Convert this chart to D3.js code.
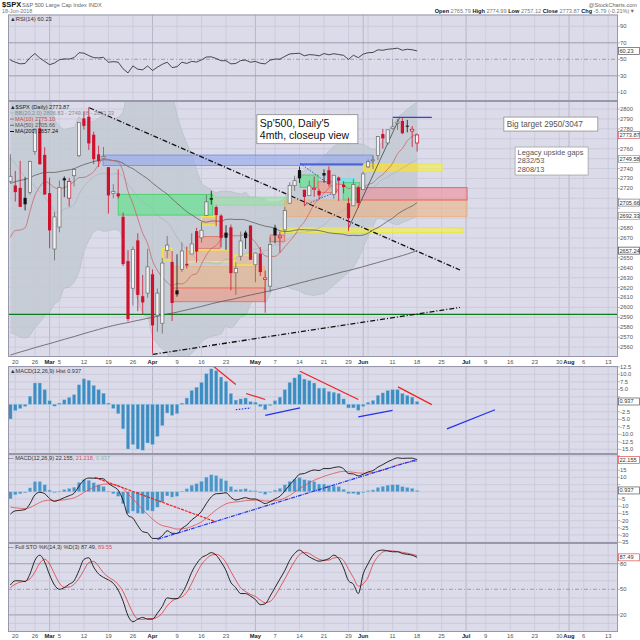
<!DOCTYPE html>
<html><head><meta charset="utf-8">
<script src="https://cdn.jsdelivr.net/npm/d3@7"></script>
<style>
body{margin:0;background:#fff;}
svg{display:block;font-family:"Liberation Sans",Arial,sans-serif;}
</style></head>
<body><svg id="c" width="640" height="640"></svg>
<script>
// ---------------- DATA ----------------
const dates = ["02-16","02-20","02-21","02-22","02-23","02-26","02-27","02-28","03-01","03-02",
"03-05","03-06","03-07","03-08","03-09","03-12","03-13","03-14","03-15","03-16",
"03-19","03-20","03-21","03-22","03-23","03-26","03-27","03-28","03-29","04-02",
"04-03","04-04","04-05","04-06","04-09","04-10","04-11","04-12","04-13","04-16",
"04-17","04-18","04-19","04-20","04-23","04-24","04-25","04-26","04-27","04-30",
"05-01","05-02","05-03","05-04","05-07","05-08","05-09","05-10","05-11","05-14",
"05-15","05-16","05-17","05-18","05-21","05-22","05-23","05-24","05-25","05-29",
"05-30","05-31","06-01","06-04","06-05","06-06","06-07","06-08","06-11","06-12",
"06-13","06-14","06-15","06-18"];
const prevClose0 = 2731.20;
const open = [2727.14,2722.99,2720.53,2710.42,2715.80,2757.37,2780.45,2753.78,2715.22,2658.89,
2681.06,2730.18,2710.18,2732.75,2752.91,2790.54,2792.31,2774.06,2754.27,2750.57,
2741.38,2715.05,2714.99,2691.36,2646.71,2619.35,2667.57,2611.30,2614.41,2633.45,
2592.17,2584.04,2657.36,2645.82,2617.18,2638.41,2643.89,2653.83,2676.90,2670.10,
2692.74,2710.11,2701.16,2692.56,2675.40,2680.80,2634.92,2651.65,2675.47,2682.51,
2642.96,2654.24,2628.08,2621.45,2680.34,2670.26,2678.12,2705.02,2722.70,2738.47,
2718.59,2712.62,2719.71,2717.35,2735.39,2738.34,2713.98,2730.94,2723.60,2705.11,
2702.43,2720.98,2718.70,2741.67,2748.46,2753.25,2774.84,2765.84,2780.18,2785.60,
2787.94,2783.21,2777.78,2765.79];
const high = [2754.42,2737.60,2747.75,2731.26,2747.76,2780.64,2789.15,2761.52,2730.89,2696.25,
2728.09,2732.08,2730.60,2740.45,2786.57,2796.98,2801.90,2777.11,2763.03,2761.85,
2741.38,2724.22,2739.14,2695.68,2657.67,2661.36,2674.78,2632.65,2659.07,2638.30,
2619.14,2649.86,2672.08,2656.88,2653.55,2665.45,2661.43,2674.72,2680.26,2686.49,
2713.34,2717.49,2702.84,2693.94,2682.86,2683.55,2645.30,2676.48,2677.35,2682.87,
2655.27,2660.87,2637.14,2670.93,2683.35,2676.34,2701.27,2726.11,2732.86,2742.10,
2718.59,2727.76,2731.96,2719.50,2739.19,2742.24,2733.33,2731.97,2727.36,2710.67,
2729.34,2722.50,2736.93,2749.16,2752.61,2772.39,2779.90,2779.39,2790.21,2789.80,
2791.47,2789.06,2782.81,2774.99];
const low = [2725.11,2706.76,2701.29,2697.77,2713.74,2753.78,2744.22,2713.54,2659.65,2647.32,
2675.75,2711.26,2701.74,2721.92,2751.54,2779.26,2758.68,2744.38,2741.47,2749.97,
2694.59,2710.05,2709.79,2641.59,2585.89,2601.81,2596.12,2593.06,2609.72,2553.80,
2575.49,2573.61,2649.58,2586.27,2610.79,2635.78,2639.25,2653.83,2645.05,2665.16,
2692.05,2703.63,2681.90,2660.61,2657.99,2617.32,2612.67,2647.16,2659.01,2648.04,
2625.41,2631.70,2594.62,2615.32,2664.70,2655.20,2674.14,2704.54,2717.45,2725.47,
2701.91,2712.17,2711.36,2709.18,2725.70,2721.88,2709.54,2707.38,2714.99,2676.81,
2702.43,2700.68,2718.70,2740.54,2739.51,2748.46,2760.16,2763.59,2779.26,2778.78,
2774.65,2776.52,2761.73,2757.12];
const close = [2732.22,2716.26,2701.33,2703.96,2747.30,2779.60,2744.28,2713.83,2677.67,2691.25,
2720.94,2728.12,2726.80,2738.97,2786.57,2783.02,2765.31,2749.48,2747.33,2752.01,
2712.92,2716.94,2711.93,2643.69,2588.26,2658.55,2612.62,2605.00,2640.87,2581.88,
2614.45,2644.69,2662.84,2604.47,2613.16,2656.87,2642.19,2663.99,2656.30,2677.84,
2706.39,2708.64,2693.13,2670.14,2670.29,2634.56,2639.40,2666.94,2669.91,2648.05,
2654.80,2635.67,2629.73,2663.42,2672.63,2671.92,2697.79,2723.07,2727.72,2730.13,
2711.45,2722.46,2720.13,2712.97,2733.01,2724.44,2733.29,2727.76,2721.33,2689.86,
2724.01,2705.27,2734.62,2746.87,2748.80,2772.35,2770.37,2779.03,2782.00,2786.85,
2775.63,2782.49,2779.66,2773.87];
const ma10 = [2670.7,2677.5,2678.1,2680.3,2696.9,2712.9,2721.8,2726.9,2724.8,2720.8,
2719.6,2720.8,2723.4,2726.9,2730.8,2731.1,2733.2,2736.8,2743.8,2749.9,
2749.1,2747.9,2746.4,2736.9,2717.1,2704.6,2689.4,2674.9,2664.3,2647.3,
2637.4,2630.2,2625.3,2621.4,2623.9,2623.7,2626.6,2632.5,2634.1,2643.7,
2652.9,2659.3,2662.3,2668.9,2674.6,2672.3,2672.1,2672.4,2673.7,2670.7,
2665.6,2658.3,2651.9,2651.3,2651.5,2655.2,2661.1,2666.7,2672.5,2680.7,
2686.4,2695.0,2704.1,2709.0,2715.1,2720.3,2723.9,2724.3,2723.7,2719.7,
2720.9,2719.2,2720.7,2724.0,2725.6,2730.4,2734.1,2739.3,2745.3,2755.0,
2760.2,2767.9,2772.4,2775.1];
const bbMid = [2750.6,2744.8,2737.9,2731.2,2726.6,2722.0,2716.5,2711.1,2703.8,2697.2,
2695.2,2699.1,2700.7,2703.6,2713.9,2722.0,2727.5,2731.8,2734.3,2735.3,
2734.3,2734.4,2734.9,2731.9,2723.9,2717.9,2711.3,2705.9,2704.0,2698.6,
2693.2,2689.1,2685.9,2679.1,2670.5,2664.2,2658.0,2653.7,2649.2,2645.5,
2645.1,2644.7,2643.8,2645.1,2649.2,2648.0,2649.4,2652.5,2653.9,2657.2,
2659.2,2658.8,2657.1,2660.1,2663.0,2663.8,2666.6,2669.5,2673.1,2675.7,
2676.0,2676.7,2678.0,2680.2,2683.3,2687.8,2692.5,2695.5,2698.1,2700.2,
2703.6,2707.1,2712.4,2716.5,2720.3,2725.4,2729.0,2731.8,2734.5,2737.3,
2740.6,2743.6,2746.5,2749.58];
const bbUpper = [2926.8,2916.8,2905.9,2893.2,2881.4,2864.0,2848.5,2830.7,2812.2,2791.0,
2783.2,2779.1,2780.7,2781.6,2791.9,2788.0,2787.5,2787.8,2790.3,2793.9,
2791.3,2790.4,2791.9,2797.9,2817.1,2812.9,2815.3,2817.9,2818.0,2826.2,
2823.2,2820.1,2817.9,2813.5,2794.5,2778.2,2765.6,2753.7,2739.2,2725.5,
2721.5,2718.7,2715.8,2717.1,2717.2,2716.8,2715.4,2714.5,2715.9,2711.2,
2711.0,2709.8,2709.1,2706.1,2706.0,2707.2,2710.6,2719.5,2728.1,2734.7,
2738.2,2740.7,2744.0,2747.2,2752.3,2757.6,2762.5,2764.5,2765.1,2765.2,
2766.4,2765.1,2764.4,2761.5,2759.3,2760.8,2769.0,2776.8,2784.5,2791.3,
2795.6,2799.6,2803.5,2806.83];
const bbLower = [2574.4,2572.8,2569.9,2569.2,2571.8,2580.0,2584.5,2591.5,2595.4,2603.4,
2607.2,2619.1,2620.7,2625.6,2635.9,2656.0,2667.5,2675.8,2678.3,2676.7,
2677.3,2678.4,2677.9,2665.9,2630.7,2622.9,2607.3,2593.9,2590.0,2571.0,
2563.2,2558.1,2553.9,2544.7,2546.5,2550.2,2550.4,2553.7,2559.2,2565.5,
2568.7,2570.7,2571.8,2573.1,2581.2,2579.2,2583.4,2590.5,2591.9,2603.2,
2607.4,2607.8,2605.1,2614.1,2620.0,2620.4,2622.6,2619.5,2618.1,2616.7,
2613.8,2612.7,2612.0,2613.2,2614.3,2618.0,2622.5,2626.5,2631.1,2635.2,
2640.8,2649.1,2660.4,2671.5,2681.3,2690.0,2689.0,2686.8,2684.5,2683.3,
2685.6,2687.6,2689.5,2692.33];
const ma50 = [2725.0,2726.8,2728.1,2729.1,2730.9,2733.2,2734.8,2736.1,2736.1,2736.1,
2736.9,2737.9,2738.7,2739.9,2742.0,2744.0,2745.5,2747.1,2748.1,2748.9,
2748.7,2748.1,2747.4,2745.3,2742.1,2739.9,2736.4,2733.0,2729.7,2725.4,
2721.5,2717.7,2714.2,2709.5,2705.0,2700.7,2696.5,2693.3,2690.0,2687.1,
2685.9,2687.1,2687.1,2686.9,2688.7,2689.0,2688.6,2688.7,2688.1,2686.5,
2684.9,2683.3,2681.9,2681.1,2679.6,2677.4,2676.5,2676.7,2677.7,2678.4,
2678.3,2678.1,2678.0,2677.5,2676.4,2675.2,2674.6,2674.2,2673.7,2672.4,
2672.6,2672.4,2672.9,2674.9,2678.1,2680.4,2683.6,2687.0,2689.9,2694.0,
2697.2,2699.9,2702.3,2705.66];
const ma200 = [2552.0,2553.5,2555.0,2556.4,2557.9,2559.4,2560.8,2562.2,2563.5,2564.9,
2566.4,2567.8,2569.2,2570.6,2572.1,2573.6,2575.0,2576.4,2577.8,2579.2,
2580.5,2581.7,2582.8,2583.8,2584.7,2585.9,2586.9,2587.9,2589.0,2589.9,
2591.0,2592.1,2593.3,2594.2,2595.2,2596.4,2597.5,2598.7,2599.8,2601.0,
2602.3,2603.6,2604.8,2605.9,2607.0,2607.9,2609.0,2610.2,2611.4,2612.5,
2613.6,2614.6,2615.6,2616.8,2618.0,2619.2,2620.5,2621.9,2623.2,2624.6,
2625.8,2627.1,2628.4,2629.6,2630.9,2632.2,2633.5,2634.8,2636.1,2637.1,
2638.4,2639.7,2641.1,2642.5,2643.9,2645.3,2646.7,2648.1,2649.5,2650.9,
2652.3,2653.8,2655.5,2657.24];
const rsi = [49,46.5,44.5,45,52,57,51.5,47.5,43.5,45.5,
49.5,50.5,50.3,52,58,57.5,54.5,52,51.7,52.4,
46.5,47.2,46.5,38.5,33.5,42,38,37.3,42,36.5,
40.5,44,46.5,40,41,46.5,45,47.5,46.7,49.3,
52.8,53,51,48.3,48.3,44.5,45,48.5,49,46.5,
47.5,45.2,44.5,49,50.3,50.2,53.5,56.5,57,57.3,
54.3,55.7,55.3,54.2,57,55.5,56.8,55.8,54.8,49.8,
55,52,56.3,58,58.3,61.5,61,62.2,62.7,63.5,
61,62.2,61.6,60.23];
const macdHist = [-4.9,-2.1,-1.4,-0.7,2.7,7.1,7.1,4.9,1.2,-0.6,
0.4,1.5,2.3,3.2,6.5,8.5,8.0,6.3,4.9,3.7,
0.4,-1.4,-3.1,-8.2,-14.9,-13.4,-14.9,-15.3,-12.9,-13.4,
-10.7,-7.1,-2.9,-3.7,-3.1,0.4,2.1,4.6,5.7,7.3,
10.2,11.8,11.2,9.1,7.7,3.6,1.4,1.8,2.1,0.9,
0.7,-0.7,-1.8,-0.4,1.2,2.4,4.9,7.3,8.8,10.0,
8.4,7.9,7.1,5.4,5.4,4.3,4.0,3.6,1.8,-1.2,
-1.2,-2.0,-0.7,0.7,1.3,3.0,3.8,4.6,4.9,4.9,
3.6,3.0,2.4,0.937];
const macdLine = [-15.5,-13.23,-12.88,-12.35,-8.28,-2.1,-0.33,-1.3,-4.7,-6.65,
-5.55,-4.08,-2.7,-1.0,3.92,8.05,9.55,9.43,9.25,8.98,
5.78,3.63,1.15,-6.0,-16.43,-18.28,-23.5,-27.73,-28.55,-32.4,
-32.38,-30.55,-27.08,-28.8,-28.98,-25.38,-23.15,-19.5,-16.98,-13.55,
-8.1,-3.55,-1.35,-1.18,-0.65,-3.85,-5.7,-4.85,-4.03,-5.0,
-5.03,-6.6,-8.15,-6.85,-4.95,-3.15,0.57,4.8,8.5,12.2,
12.7,14.18,15.15,14.8,16.15,16.13,16.83,17.33,15.98,12.68,
12.38,11.08,12.2,13.78,14.7,17.15,18.9,20.85,22.38,23.6,
23.2,23.35,23.35,22.155];
const macdSignal = [-10.6,-11.13,-11.48,-11.65,-10.98,-9.2,-7.43,-6.2,-5.9,-6.05,
-5.95,-5.58,-5.0,-4.2,-2.58,-0.45,1.55,3.13,4.35,5.28,
5.38,5.03,4.25,2.2,-1.53,-4.88,-8.6,-12.43,-15.65,-19.0,
-21.68,-23.45,-24.18,-25.1,-25.88,-25.78,-25.25,-24.1,-22.68,-20.85,
-18.3,-15.35,-12.55,-10.28,-8.35,-7.45,-7.1,-6.65,-6.13,-5.9,
-5.73,-5.9,-6.35,-6.45,-6.15,-5.55,-4.33,-2.5,-0.3,2.2,
4.3,6.28,8.05,9.4,10.75,11.83,12.83,13.73,14.18,13.88,
13.58,13.08,12.9,13.08,13.4,14.15,15.1,16.25,17.48,18.7,
19.6,20.35,20.95,21.218];
const stoK = [55,60,60,59,68,84,90,82,67,55,
50,52,56,60,72,85,87,76,68,64,
61,57,49,36,19,12,15,17,15,15,
22,30,40,39,39,45,56,70,80,87,
90,93,90,82,72,58,52,45,45,42,
38,32,33,42,52,62,72,84,92,96,
92,88,85,83,84,86,90,86,75,60,
56,45,68,80,90,95,96,95,94,94,
92,91,90,87.49];
const stoD = [52,56,58.3,59.7,62.3,70.3,80.7,85.3,79.7,68,
57.3,52.3,52.7,56,62.7,72.3,81.3,82.7,77,69.3,
64.3,60.7,55.7,47.3,34.7,22.3,15.3,14.7,15.7,15.7,
17.3,22.3,30.7,36.3,39.3,41,46.7,57,68.7,79,
85.7,90,91,88.3,81.3,70.7,60.7,51.7,47.3,44,
41.7,37.3,34.3,35.7,42.3,52,62,72.7,82.7,90.7,
93.3,92,88.3,85.3,84,84.3,86.7,87.3,83.7,73.7,
63.7,53.7,56.3,64.3,79.3,88.3,93.7,95.3,95,94.3,
93.3,92.3,91,89.55];

// x-axis ticks (trading-day index incl. future days)
const tickIdx = [1,5,8,10,15,20,25,29,34,39,44,50,54,59,64,69,72,78,83,88,93,97,102,107,112,114,117,122];
const tickLabels = ["20","26","Mar","5","12","19","26","Apr","9","16","23","May","7","14","21","29","Jun","11","18","25","Jul","9","16","23","30","Aug","6","13"];
const gridOnlyIdx = [73];
const monthLabels = ["Mar","Apr","May","Jun","Jul","Aug"];
const priceTicks = d3.range(2560, 2801, 10);
const rsiTicks = [10,30,50,70,90];
const histTicks = [12.5,10,7.5,5,2.5,0,-2.5,-5,-7.5,-10,-12.5,-15];
const macdTicks = [25,20,15,10,5,0,-5,-10,-15,-20,-25,-30,-35];
const stoTicks = [80,50,20];

// annotations (date index, price)
const zones = [
 [18.9,74,2753.6,2743.0,"blue"],
 [22.0,41.3,2714.0,2693.1,"green"],
 [41.3,56.4,2711.3,2703.2,"green2"],
 [32.9,51.9,2641.0,2619.6,"orange"],
 [32.9,51.9,2619.6,2605.7,"salmon"],
 [31.1,32.9,2659.6,2647.8,"yellowbox"],
 [38,42.8,2671.3,2659.6,"salmon"],
 [36,44.8,2657.9,2646.1,"yellowbox"],
 [39,42.1,2691.4,2683.1,"yellowbox"],
 [45.8,49.9,2652.8,2642.7,"yellowbox"],
 [53,56,2673,2666.2,"salmon"],
 [56,93.2,2708.3,2691.6,"orange"],
 [55,92.2,2680.3,2675.3,"yellow"],
 [70.3,93.2,2720.7,2708.3,"red"],
 [72,83.2,2744.6,2737.5,"orangefill"],
 [72,88.1,2744.6,2737.5,"yellow"],
 [59.1,62.8,2733.5,2721.1,"green"],
 [62.8,66.6,2726.7,2715.6,"salmon"],
 [66.6,70.3,2730.1,2725.7,"cyan"],
 [67.9,71.3,2725.7,2708.3,"green"]
];
const priceLines = [
 [16.1,2801.3,91.75,2637.7,"#111","5,2,1,2",1.3],
 [29.04,2552.7,91.75,2600.0,"#111","5,2,1,2",1.3],
 [69,2680,79.5,2792,"#333",null,0.7],
 [78,2791.6,86,2791.6,"#3344dd",null,1.2],
 [59.1,2744.5,72,2744.5,"#3344dd",null,1.2],
 [59.1,2745.3,66.9,2717.6,"#3355ee","1.5,1.5",1],
 [60.1,2703.2,66.9,2717.6,"#3355ee","1.5,1.5",1]
];
const greenLevel = 2593;
const histLines = [
 [41.2,13.0,46.0,6.6,"#ee2222",null],
 [48.1,3.6,52.0,1.6,"#ee2222",null],
 [59.1,11,71.0,1.6,"#ee2222",null],
 [79.1,5.8,86.0,-0.1,"#ee2222",null],
 [46,-1.8,49.1,-1.2,"#2233ee","1.5,1.5"],
 [52,-3.7,59.1,-1.2,"#2233ee",null],
 [71,-4.2,78,-2.0,"#2233ee",null],
 [89.1,-8.2,98.9,-1.8,"#2233ee",null]
];
const macdLines = [
 [17.2,10,42,-21,"#ee2222","3,1"],
 [30,-33,83,22.5,"#2233ee","4,1,1,1"]
];

// ---------------- LAYOUT ----------------
const svg = d3.select("#c");
const X0 = 8, X1 = 618;
const x = d3.scaleLinear().domain([-0.49, 124.0]).range([X0, X1]);
const P = {
  rsi:   {top:14.5, bottom:101},
  price: {top:101, bottom:357},
  hist:  {top:366, bottom:454},
  macd:  {top:454, bottom:543},
  sto:   {top:543, bottom:632}
};
const yR = d3.scaleLinear().domain([-0.5,104.3]).range([P.rsi.bottom,P.rsi.top]);
const yP = d3.scaleLinear().domain([2550,2808.1]).range([P.price.bottom,P.price.top]);
const yH = d3.scaleLinear().domain([-16.57,12.77]).range([P.hist.bottom,P.hist.top]);
const yM = d3.scaleLinear().domain([-35.56,26.25]).range([P.macd.bottom,P.macd.top]);
const yS = d3.scaleLinear().domain([-0.06,104.3]).range([P.sto.bottom,P.sto.top]);

const BG = "#dcdbe9", GRID = "#c9c8da", MGRID = "#aeadc2", BORDER = "#9897ab";
const TXT = "#555";
const defs = svg.append("defs");

function panel(name, p){
  defs.append("clipPath").attr("id","clip-"+name)
    .append("rect").attr("x",X0).attr("y",p.top).attr("width",X1-X0).attr("height",p.bottom-p.top);
  svg.append("rect").attr("x",X0).attr("y",p.top).attr("width",X1-X0).attr("height",p.bottom-p.top).attr("fill",BG);
  const g = svg.append("g").attr("clip-path","url(#clip-"+name+")");
  g.selectAll(null).data(tickIdx.concat(gridOnlyIdx)).join("line")
    .attr("x1",d=>x(d)).attr("x2",d=>x(d)).attr("y1",p.top).attr("y2",p.bottom)
    .attr("stroke",(d)=>monthLabels.includes(tickLabels[tickIdx.indexOf(d)])?MGRID:GRID).attr("stroke-width",0.8);
  return g;
}
function hgrid(g, ys, vals, color, dash){
  g.selectAll(null).data(vals).join("line")
   .attr("x1",X0).attr("x2",X1).attr("y1",d=>ys(d)).attr("y2",d=>ys(d))
   .attr("stroke",color).attr("stroke-width",0.8).attr("stroke-dasharray",dash||null);
}
function border(p){
  svg.append("rect").attr("x",X0+0.5).attr("y",p.top+0.5).attr("width",X1-X0-1).attr("height",p.bottom-p.top-1)
    .attr("fill","none").attr("stroke",BORDER).attr("stroke-width",1);
}
// axis labels, skipping those hidden under a value box
function yLabels(ys, vals, fmt, boxYs){
  const keep = vals.filter(v=>!(boxYs||[]).some(b=>Math.abs(ys(v)-b)<6));
  svg.selectAll(null).data(vals).join("line")
    .attr("x1",X1).attr("x2",X1+2).attr("y1",d=>ys(d)).attr("y2",d=>ys(d)).attr("stroke","#888").attr("stroke-width",0.6);
  svg.selectAll(null).data(keep).join("text")
    .attr("x",620).attr("y",d=>ys(d)+2).attr("font-size",5.8).attr("fill",TXT).text(fmt||(d=>d));
}
function valBox(yv, txt, stroke){
  svg.append("rect").attr("x",618.5).attr("y",yv-3.5).attr("width",21).attr("height",7)
    .attr("fill","#fff").attr("stroke",stroke).attr("stroke-width",0.7);
  svg.append("text").attr("x",619.5).attr("y",yv+2).attr("font-size",5.6).attr("fill","#333").text(txt);
}
function xLabels(yy){
  svg.selectAll(null).data(tickIdx).join("text")
    .attr("x",d=>x(d)).attr("y",yy).attr("text-anchor","middle").attr("font-size",5.8)
    .attr("font-weight",(d,i)=>monthLabels.includes(tickLabels[i])?"bold":"normal")
    .attr("fill",(d,i)=>monthLabels.includes(tickLabels[i])?"#222":TXT)
    .text((d,i)=>tickLabels[i]);
}
const idx = d3.range(close.length);

// ---------------- HEADER ----------------
svg.append("text").attr("x",2).attr("y",7).attr("font-size",7.5).attr("font-weight","bold").attr("fill","#111").text("$SPX");
svg.append("text").attr("x",22).attr("y",7).attr("font-size",5.6).attr("fill","#666").text("S&P 500 Large Cap Index  INDX");
svg.append("text").attr("x",2).attr("y",13.2).attr("font-size",5.4).attr("fill","#777").text("18-Jun-2018");
svg.append("text").attr("x",637).attr("y",6.5).attr("text-anchor","end").attr("font-size",5.6).attr("fill","#666").text("@StockCharts.com");
const hdr = svg.append("text").attr("x",635).attr("y",13.2).attr("text-anchor","end").attr("font-size",5.6);
[["Open ","b"],["2765.79 ","v"],["High ","b"],["2774.99 ","v"],["Low ","b"],["2757.12 ","v"],["Close ","b"],["2773.87 ","v"],["Chg ","b"],["-5.79 (-0.21%)▼","v"]]
 .forEach(([t,k])=>hdr.append("tspan").attr("font-weight",k==="b"?"bold":"normal").attr("fill",k==="b"?"#111":"#777").text(t));

// ---------------- RSI ----------------
{
  const g = panel("rsi",P.rsi);
  hgrid(g,yR,[10,90],GRID);
  hgrid(g,yR,[30,70],"#8f8ea3");
  hgrid(g,yR,[50],"#8f8ea3","4,2,1,2");
  g.append("path").datum(idx).attr("fill","none").attr("stroke","#222").attr("stroke-width",0.8)
    .attr("d",d3.line().x(i=>x(i)).y(i=>yR(rsi[i])));
  border(P.rsi);
  const by = yR(rsi[rsi.length-1]);
  yLabels(yR,rsiTicks,null,[by]);
  valBox(by,"60.23","#555");
  svg.append("text").attr("x",10).attr("y",21).attr("font-size",5.8).attr("fill","#333").text("▲RSI(14) 60.23");
}

// ---------------- PRICE ----------------
{
  const g = panel("price",P.price);
  hgrid(g,yP,priceTicks,GRID);
  g.append("path").datum(idx).attr("fill","#c3cad2").attr("fill-opacity",0.85)
    .attr("d",d3.area().x(i=>x(i)).y0(i=>yP(bbLower[i])).y1(i=>yP(bbUpper[i])).curve(d3.curveMonotoneX));
  [bbUpper,bbLower].forEach(arr=>g.append("path").datum(idx).attr("fill","none").attr("stroke","#b4bac4").attr("stroke-width",0.6)
    .attr("d",d3.line().x(i=>x(i)).y(i=>yP(arr[i])).curve(d3.curveMonotoneX)));
  const zs = {
    blue:{f:"#93a8ec",o:0.6,s:"#6f8ae8",w:0.8},
    green:{f:"#5fe28a",o:0.65,s:"#3fcf5f",w:0.8},
    green2:{f:"#8ee69a",o:0.5,s:"#79dc85",w:0.5},
    orange:{f:"#f0b07c",o:0.55,s:"#eea66a",w:0.6},
    orangefill:{f:"#f0a878",o:0.7,s:"none",w:0},
    salmon:{f:"#f09a86",o:0.65,s:"#ea5a50",w:0.7},
    yellowbox:{f:"#f3b58a",o:0.55,s:"#f2ee30",w:1.2},
    yellow:{f:"#f4f04a",o:0.6,s:"#eeea2a",w:0.8},
    red:{f:"#f08d98",o:0.6,s:"#e8505e",w:0.8},
    cyan:{f:"#7fe2ea",o:0.85,s:"#6fd6e0",w:0.5}
  };
  g.selectAll(null).data(zones).join("rect")
    .attr("x",d=>x(d[0])).attr("width",d=>x(d[1])-x(d[0]))
    .attr("y",d=>yP(d[2])).attr("height",d=>yP(d[3])-yP(d[2]))
    .attr("fill",d=>zs[d[4]].f).attr("fill-opacity",d=>zs[d[4]].o)
    .attr("stroke",d=>zs[d[4]].s).attr("stroke-width",d=>zs[d[4]].w);
  const ln = (arr,col,w)=>g.append("path").datum(idx).attr("fill","none").attr("stroke",col).attr("stroke-width",w)
    .attr("d",d3.line().x(i=>x(i)).y(i=>yP(arr[i])).curve(d3.curveMonotoneX));
  ln(bbMid,"#a9adb8",0.6);
  ln(ma200,"#5a5a5a",0.8);
  ln(ma50,"#6b6b6b",0.9);
  ln(ma10,"#c46a6a",0.8);
  g.append("line").attr("x1",X0).attr("x2",X1).attr("y1",yP(greenLevel)).attr("y2",yP(greenLevel))
    .attr("stroke","#0a7a1a").attr("stroke-width",1.2);
  g.selectAll(null).data(priceLines).join("line")
    .attr("x1",d=>x(d[0])).attr("y1",d=>yP(d[1])).attr("x2",d=>x(d[2])).attr("y2",d=>yP(d[3]))
    .attr("stroke",d=>d[4]).attr("stroke-dasharray",d=>d[5]).attr("stroke-width",d=>d[6]);
  const RED = "#d0112e";
  const cg = g.append("g");
  idx.forEach(i=>{
    const pc = i===0?prevClose0:close[i-1];
    const down = close[i] < pc;
    const filled = close[i] < open[i];
    const col = down ? RED : (filled ? "#111" : "#6a6a6a");
    cg.append("line").attr("x1",x(i)).attr("x2",x(i)).attr("y1",yP(high[i])).attr("y2",yP(low[i]))
      .attr("stroke",col).attr("stroke-width",0.8);
    const top = yP(Math.max(open[i],close[i])), bot = yP(Math.min(open[i],close[i]));
    cg.append("rect").attr("x",x(i)-1.6).attr("width",3.2).attr("y",top).attr("height",Math.max(1,bot-top))
      .attr("fill",filled?col:"#f2f2f4").attr("stroke",col).attr("stroke-width",filled?0:0.7);
  });
  border(P.price);
  const boxes = [[close[close.length-1],"2773.87","#d06060"],[2749.58,"2749.58","#999"],[2705.66,"2705.66","#777"],
                 [2692.33,"2692.33","#999"],[2657.24,"2657.24","#444"]];
  yLabels(yP,priceTicks,null,boxes.map(b=>yP(b[0])));
  boxes.forEach(b=>valBox(yP(b[0]),b[1],b[2]));
  const lg = [["$SPX (Daily) 2773.87","#222",null],["BB(20,2.0) 2806.83 - 2749.58 - 2692.33","#8a8a96","#b4bac4"],
    ["MA(10) 2775.10","#cc4444","#c46a6a"],["MA(50) 2705.66","#555","#6b6b6b"],["MA(200) 2657.24","#111","#111"]];
  lg.forEach((d,k)=>{
    const yy = 108.5 + k*6.2;
    if(d[2]) svg.append("line").attr("x1",10).attr("x2",14).attr("y1",yy-1.8).attr("y2",yy-1.8).attr("stroke",d[2]).attr("stroke-width",1);
    svg.append("text").attr("x",k===0?10:15).attr("y",yy).attr("font-size",5.6).attr("fill",d[1]).text(k===0?"▲"+d[0]:d[0]);
  });
  const tb = svg.append("g");
  tb.append("rect").attr("x",x(50.3)).attr("y",yP(2794.3)).attr("width",101).attr("height",29)
    .attr("fill","#fff").attr("stroke","#888").attr("stroke-width",0.8);
  tb.append("text").attr("x",x(50.3)+3).attr("y",yP(2794.3)+12).attr("font-size",10.5).attr("fill","#111").text("Sp'500, Daily'5");
  tb.append("text").attr("x",x(50.3)+3).attr("y",yP(2794.3)+24.5).attr("font-size",10.5).attr("fill","#111").text("4mth, closeup view");
  tb.append("rect").attr("x",x(100.7)).attr("y",yP(2791.9)).attr("width",94).attr("height",14)
    .attr("fill","#fff").attr("stroke","#9a8a8a").attr("stroke-width",0.8);
  tb.append("text").attr("x",x(100.7)+3).attr("y",yP(2791.9)+10).attr("font-size",8.2).attr("fill","#555").text("Big target 2950/3047");
  tb.append("rect").attr("x",x(103)).attr("y",yP(2761.7)).attr("width",73).attr("height",28)
    .attr("fill","#fff").attr("stroke","#999").attr("stroke-width",0.7);
  ["Legacy upside gaps","2832/53","2808/13"].forEach((t,k)=>
    tb.append("text").attr("x",x(103)+2.5).attr("y",yP(2761.7)+8+k*8.3).attr("font-size",7.4).attr("fill","#555").text(t));
}
xLabels(363.8);

// ---------------- MACD HISTOGRAM ----------------
{
  const g = panel("hist",P.hist);
  hgrid(g,yH,histTicks,GRID);
  g.selectAll(null).data(idx).join("rect")
    .attr("x",i=>x(i)-1.7).attr("width",3.4)
    .attr("y",i=>Math.min(yH(0),yH(macdHist[i]))).attr("height",i=>Math.abs(yH(macdHist[i])-yH(0)))
    .attr("fill","#3d8cc2").attr("stroke","#9cc6e2").attr("stroke-width",0.4);
  g.selectAll(null).data(histLines).join("line")
    .attr("x1",d=>x(d[0])).attr("y1",d=>yH(d[1])).attr("x2",d=>x(d[2])).attr("y2",d=>yH(d[3]))
    .attr("stroke",d=>d[4]).attr("stroke-width",1.2).attr("stroke-dasharray",d=>d[5]);
  border(P.hist);
  const by = yH(0.937);
  yLabels(yH,histTicks,d=>d.toFixed(1),[by]);
  valBox(by,"0.937","#555");
  svg.append("text").attr("x",10).attr("y",372.5).attr("font-size",5.6).attr("fill","#333").text("▲MACD(12,26,9) Hist 0.937");
}

// ---------------- MACD ----------------
{
  const g = panel("macd",P.macd);
  hgrid(g,yM,macdTicks,GRID);
  g.selectAll(null).data(idx).join("rect")
    .attr("x",i=>x(i)-1.7).attr("width",3.4)
    .attr("y",i=>Math.min(yM(0),yM(macdHist[i]))).attr("height",i=>Math.abs(yM(macdHist[i])-yM(0)))
    .attr("fill","#4b95c8").attr("stroke","#a6cbe6").attr("stroke-width",0.4);
  g.append("path").datum(idx).attr("fill","none").attr("stroke","#e05050").attr("stroke-width",0.8)
    .attr("d",d3.line().x(i=>x(i)).y(i=>yM(macdSignal[i])).curve(d3.curveMonotoneX));
  g.append("path").datum(idx).attr("fill","none").attr("stroke","#111").attr("stroke-width",0.9)
    .attr("d",d3.line().x(i=>x(i)).y(i=>yM(macdLine[i])).curve(d3.curveMonotoneX));
  g.selectAll(null).data(macdLines).join("line")
    .attr("x1",d=>x(d[0])).attr("y1",d=>yM(d[1])).attr("x2",d=>x(d[2])).attr("y2",d=>yM(d[3]))
    .attr("stroke",d=>d[4]).attr("stroke-width",1.2).attr("stroke-dasharray",d=>d[5]);
  border(P.macd);
  const b1 = yM(22.155), b2 = yM(0.937);
  yLabels(yM,macdTicks,null,[b1,b2]);
  valBox(b1,"22.155","#e05050");
  valBox(b2,"0.937","#555");
  const t = svg.append("text").attr("x",8).attr("y",459.5).attr("font-size",5.6);
  t.append("tspan").attr("fill","#333").text("— MACD(12,26,9) 22.155, ");
  t.append("tspan").attr("fill","#e05050").text("21.218, ");
  t.append("tspan").attr("fill","#7cc0a8").text("0.937");
}

// ---------------- STOCHASTICS ----------------
{
  const g = panel("sto",P.sto);
  hgrid(g,yS,[10,30,40,60,70,90],GRID);
  hgrid(g,yS,[80,20],"#8f8ea3");
  hgrid(g,yS,[50],"#8f8ea3","4,2,1,2");
  g.append("path").datum(idx).attr("fill","none").attr("stroke","#e03a3a").attr("stroke-width",0.8)
    .attr("d",d3.line().x(i=>x(i)).y(i=>yS(stoD[i])).curve(d3.curveMonotoneX));
  g.append("path").datum(idx).attr("fill","none").attr("stroke","#111").attr("stroke-width",0.9)
    .attr("d",d3.line().x(i=>x(i)).y(i=>yS(stoK[i])).curve(d3.curveMonotoneX));
  border(P.sto);
  const by = yS(87.49);
  yLabels(yS,stoTicks,null,[by]);
  valBox(by,"87.49","#e05050");
  const t = svg.append("text").attr("x",8).attr("y",548.5).attr("font-size",5.6);
  t.append("tspan").attr("fill","#333").text("— Full STO %K(14,3) %D(3) 87.49, ");
  t.append("tspan").attr("fill","#e05050").text("89.55");
}
xLabels(637.5);
</script></body></html>
